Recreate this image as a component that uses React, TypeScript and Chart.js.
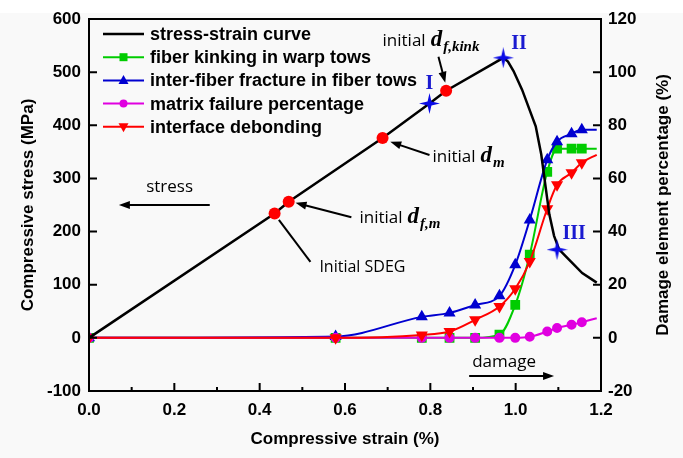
import React, { useEffect, useRef } from "react";
import { Chart, registerables } from "chart.js";

Chart.register(...registerables);

// ---------- data ----------
const stressStrain = [0, 0.435, 0.468, 0.688, 0.798, 0.837, 0.971, 0.982, 0.995, 1.015, 1.047, 1.060, 1.070, 1.079, 1.090, 1.102, 1.125, 1.156, 1.19];
const stressValues = [0, 234, 256, 376, 441, 465, 527, 520, 502, 467, 398, 345, 285, 232, 192, 166, 147, 122, 104];

const damageStrain = [0, 0.578, 0.78, 0.845, 0.905, 0.962, 0.999, 1.033, 1.074, 1.097, 1.131, 1.155, 1.19];
const fiberKinking = [0, 0, 0, 0, 0, 1.2, 12.4, 31.3, 62.5, 71.2, 71.2, 71.2, 71.2];
const interFiber = [0, 0.5, 7.9, 9.4, 12.4, 15.8, 27.5, 44.4, 67.0, 73.8, 76.8, 78.3, 78.3];
const matrixFailure = [0, 0, 0, 0, 0, 0, 0, 0.4, 2.4, 3.7, 4.9, 5.9, 7.4];
const interfaceDebonding = [0, 0, 1.1, 2.4, 6.8, 11.8, 18.5, 28.7, 48.6, 57.6, 62.1, 65.9, 68.9];

const initStrain = [0.435, 0.468, 0.688, 0.837];
const initStress = [234, 256, 376, 465];
const stageStrain = [0.798, 0.971, 1.097];
const stageStress = [441, 527, 166];
const stageLabels = ["I", "II", "III"];

const xTicks = [0, 0.2, 0.4, 0.6, 0.8, 1.0, 1.2];
const yTicks = [-100, 0, 100, 200, 300, 400, 500, 600];
const y1Ticks = [-20, 0, 20, 40, 60, 80, 100, 120];

const seriesLabels = [
  "stress-strain curve",
  "fiber kinking in warp tows",
  "inter-fiber fracture in fiber tows",
  "matrix failure percentage",
  "interface debonding",
];

const BLACK = "#000000";
const GREEN = "#00cc00";
const BLUE = "#0000d0";
const MAGENTA = "#e000e0";
const RED = "#ff0000";
const STAR_BLUE = "#0a0ae6";

const SANS_BOLD = "'Liberation Sans', Arial, sans-serif";

function makeStar(size: number, color: string) {
  const c = document.createElement("canvas");
  c.width = size;
  c.height = size;
  const ctx = c.getContext("2d")!;
  const r = size / 2;
  const ri = size * 0.13;
  ctx.fillStyle = color;
  ctx.beginPath();
  for (let i = 0; i < 8; i++) {
    const a = -Math.PI / 2 + (i * Math.PI) / 4;
    const rr = i % 2 === 0 ? r : ri;
    ctx.lineTo(r + rr * Math.cos(a), r + rr * Math.sin(a));
  }
  ctx.closePath();
  ctx.fill();
  return c;
}

function pts(xs: number[], ys: number[]) {
  return xs.map((x, i) => ({ x, y: ys[i] }));
}

function radii(n: number, r: number) {
  return Array.from({ length: n }, (_, i) => (i === n - 1 ? 0 : r));
}

function drawMarker(ctx: CanvasRenderingContext2D, kind: string, x: number, y: number, color: string) {
  ctx.fillStyle = color;
  ctx.beginPath();
  if (kind === "rect") {
    ctx.rect(x - 4, y - 4, 8, 8);
  } else if (kind === "tri") {
    ctx.moveTo(x, y - 5.5);
    ctx.lineTo(x + 5, y + 3.5);
    ctx.lineTo(x - 5, y + 3.5);
    ctx.closePath();
  } else if (kind === "trid") {
    ctx.moveTo(x, y + 5.5);
    ctx.lineTo(x + 5, y - 3.5);
    ctx.lineTo(x - 5, y - 3.5);
    ctx.closePath();
  } else if (kind === "circle") {
    ctx.arc(x, y, 4, 0, Math.PI * 2);
  }
  ctx.fill();
}

function arrow(ctx: CanvasRenderingContext2D, x1: number, y1: number, x2: number, y2: number, head = true) {
  const ang = Math.atan2(y2 - y1, x2 - x1);
  const hl = head ? 11 : 0;
  ctx.beginPath();
  ctx.moveTo(x1, y1);
  ctx.lineTo(x2 - Math.cos(ang) * hl * 0.8, y2 - Math.sin(ang) * hl * 0.8);
  ctx.stroke();
  if (head) {
    ctx.beginPath();
    ctx.moveTo(x2, y2);
    ctx.lineTo(x2 - hl * Math.cos(ang) + 4 * Math.sin(ang), y2 - hl * Math.sin(ang) - 4 * Math.cos(ang));
    ctx.lineTo(x2 - hl * Math.cos(ang) - 4 * Math.sin(ang), y2 - hl * Math.sin(ang) + 4 * Math.cos(ang));
    ctx.closePath();
    ctx.fill();
  }
}

function initialLabel(ctx: CanvasRenderingContext2D, x: number, y: number, sub: string) {
  ctx.textBaseline = "alphabetic";
  ctx.textAlign = "left";
  ctx.fillStyle = "#000";
  ctx.font = "17px 'Open Sans', 'Noto Sans', sans-serif";
  ctx.fillText("initial", x, y);
  const w = ctx.measureText("initial").width + 5;
  ctx.font = "bold italic 23px 'Liberation Serif', serif";
  ctx.fillText("d", x + w, y);
  const w2 = ctx.measureText("d").width + 1;
  ctx.font = "bold italic 15px 'Liberation Serif', serif";
  ctx.fillText(sub, x + w + w2, y + 5);
}

const decorPlugin = {
  id: "decor",
  beforeDraw(chart: any) {
    const { ctx, width, height } = chart;
    ctx.save();
    ctx.fillStyle = "#f9f9f9";
    ctx.fillRect(0, 0, width, height);
    ctx.fillStyle = "#ffffff";
    ctx.fillRect(0, 0, width, 13);
    ctx.restore();
  },
  afterDraw(chart: any) {
    const { ctx, chartArea } = chart;
    const { left, right, top, bottom } = chartArea;
    const sx = chart.scales.x;
    const sy = chart.scales.y;
    const sy1 = chart.scales.y1;
    const P = (a: number, b: number) => [sx.getPixelForValue(a), sy.getPixelForValue(b)];
    ctx.save();
    // frame
    ctx.strokeStyle = "#000";
    ctx.lineWidth = 2;
    ctx.strokeRect(left, top, right - left, bottom - top);
    // inward ticks
    ctx.beginPath();
    for (let i = 0; i <= 12; i++) {
      const px = sx.getPixelForValue(i * 0.1);
      const len = i % 2 === 0 ? 8 : 4;
      ctx.moveTo(px, bottom);
      ctx.lineTo(px, bottom - len);
    }
    yTicks.forEach((v) => {
      const py = sy.getPixelForValue(v);
      ctx.moveTo(left, py);
      ctx.lineTo(left + 8, py);
    });
    y1Ticks.forEach((v) => {
      const py = sy1.getPixelForValue(v);
      ctx.moveTo(right, py);
      ctx.lineTo(right - 8, py);
    });
    ctx.stroke();

    // right axis title (reads bottom to top)
    ctx.save();
    ctx.translate(right + 62, (top + bottom) / 2);
    ctx.rotate(-Math.PI / 2);
    ctx.fillStyle = "#000";
    ctx.font = "bold 17px " + SANS_BOLD;
    ctx.textAlign = "center";
    ctx.textBaseline = "middle";
    ctx.fillText("Damage element percentage (%)", 0, 0);
    ctx.restore();

    // annotations
    ctx.strokeStyle = "#000";
    ctx.fillStyle = "#000";
    ctx.lineWidth = 2;
    let a: number[], b: number[];
    // initial d_f,kink
    a = P(0.819, 529); b = P(0.835, 480);
    arrow(ctx, a[0], a[1], b[0], b[1]);
    a = P(0.688, 550);
    initialLabel(ctx, a[0], a[1], "f,kink");
    // initial d_m
    a = P(0.798, 344); b = P(0.706, 369);
    arrow(ctx, a[0], a[1], b[0], b[1]);
    a = P(0.805, 330);
    initialLabel(ctx, a[0], a[1], "m");
    // initial d_f,m
    a = P(0.615, 227); b = P(0.484, 254);
    arrow(ctx, a[0], a[1], b[0], b[1]);
    a = P(0.634, 217);
    initialLabel(ctx, a[0], a[1], "f,m");
    // Initial SDEG
    a = P(0.519, 143); b = P(0.445, 222);
    arrow(ctx, a[0], a[1], b[0], b[1], false);
    a = P(0.54, 133);
    ctx.font = "16px 'Open Sans', 'Noto Sans', sans-serif";
    ctx.textBaseline = "middle";
    ctx.textAlign = "left";
    ctx.fillText("Initial SDEG", a[0], a[1]);
    // stress
    a = P(0.283, 250); b = P(0.07, 250);
    arrow(ctx, a[0], a[1], b[0], b[1]);
    a = P(0.189, 283);
    ctx.font = "17px 'Open Sans', 'Noto Sans', sans-serif";
    ctx.textAlign = "center";
    ctx.fillText("stress", a[0], a[1]);
    // damage
    a = P(0.891, -72); b = P(1.09, -72);
    arrow(ctx, a[0], a[1], b[0], b[1]);
    a = P(0.898, -45);
    ctx.textAlign = "left";
    ctx.fillText("damage", a[0], a[1]);

    // stage labels
    ctx.fillStyle = "#1a1ad0";
    ctx.font = "bold 20px 'Liberation Serif', 'Times New Roman', serif";
    ctx.textAlign = "center";
    ctx.textBaseline = "middle";
    const stagePos = [[0.798, 478], [1.008, 553], [1.137, 196]];
    stageLabels.forEach((t, i) => {
      const p = P(stagePos[i][0], stagePos[i][1]);
      ctx.fillText(t, p[0], p[1]);
    });

    // legend
    const kinds = ["none", "rect", "tri", "circle", "trid"];
    const colors = [BLACK, GREEN, BLUE, MAGENTA, RED];
    ctx.font = "bold 18px " + SANS_BOLD;
    ctx.textAlign = "left";
    ctx.textBaseline = "middle";
    seriesLabels.forEach((lab, i) => {
      const yy = top + 15 + i * 23.2;
      const x0 = left + 14;
      ctx.strokeStyle = colors[i];
      ctx.lineWidth = i === 0 ? 2.5 : 2;
      ctx.beginPath();
      ctx.moveTo(x0, yy);
      ctx.lineTo(x0 + 41, yy);
      ctx.stroke();
      if (kinds[i] !== "none") drawMarker(ctx, kinds[i], x0 + 20.5, yy, colors[i]);
      ctx.fillStyle = "#000";
      ctx.fillText(lab, x0 + 47, yy + 1);
    });
    ctx.restore();
  },
};

export default function App() {
  const ref = useRef<HTMLCanvasElement | null>(null);
  useEffect(() => {
    document.body.style.margin = "0";
    const canvas = ref.current!;
    const star = makeStar(21, STAR_BLUE);
    const n = damageStrain.length;
    const tickFont = { family: SANS_BOLD, size: 17, weight: "bold" as const };
    const titleFont = { family: SANS_BOLD, size: 17, weight: "bold" as const };
    const chart = new Chart(canvas, {
      type: "line",
      data: {
        datasets: [
          {
            label: "stages",
            data: pts(stageStrain, stageStress),
            yAxisID: "y",
            showLine: false,
            pointStyle: star as any,
            pointRadius: 10,
            order: 0,
          } as any,
          {
            label: "initiation",
            data: pts(initStrain, initStress),
            yAxisID: "y",
            showLine: false,
            pointStyle: "circle",
            pointRadius: 6,
            backgroundColor: RED,
            borderColor: RED,
            borderWidth: 0,
            order: 0,
          },
          {
            label: seriesLabels[0],
            data: pts(stressStrain, stressValues),
            yAxisID: "y",
            borderColor: BLACK,
            borderWidth: 2.5,
            pointRadius: 0,
            tension: 0,
            order: 1,
          },
          {
            label: seriesLabels[4],
            data: pts(damageStrain, interfaceDebonding),
            yAxisID: "y1",
            borderColor: RED,
            backgroundColor: RED,
            borderWidth: 2,
            pointStyle: "triangle",
            rotation: 180,
            pointRadius: radii(n, 5),
            cubicInterpolationMode: "monotone",
            order: 2,
          },
          {
            label: seriesLabels[3],
            data: pts(damageStrain, matrixFailure),
            yAxisID: "y1",
            borderColor: MAGENTA,
            backgroundColor: MAGENTA,
            borderWidth: 2,
            pointStyle: "circle",
            pointRadius: radii(n, 4),
            cubicInterpolationMode: "monotone",
            order: 3,
          },
          {
            label: seriesLabels[2],
            data: pts(damageStrain, interFiber),
            yAxisID: "y1",
            borderColor: BLUE,
            backgroundColor: BLUE,
            borderWidth: 2,
            pointStyle: "triangle",
            pointRadius: radii(n, 5),
            cubicInterpolationMode: "monotone",
            order: 4,
          },
          {
            label: seriesLabels[1],
            data: pts(damageStrain, fiberKinking),
            yAxisID: "y1",
            borderColor: GREEN,
            backgroundColor: GREEN,
            borderWidth: 2,
            pointStyle: "rect",
            pointRadius: radii(n, 5.5),
            cubicInterpolationMode: "monotone",
            order: 5,
          },
        ],
      },
      options: {
        animation: false,
        responsive: false,
        maintainAspectRatio: false,
        layout: { padding: { top: 19, left: 0, right: 0, bottom: 0 } },
        plugins: { legend: { display: false }, tooltip: { enabled: false } },
        elements: { point: { borderWidth: 0 } },
        scales: {
          x: {
            type: "linear",
            position: "bottom",
            min: 0,
            max: 1.2,
            afterBuildTicks: (s: any) => {
              s.ticks = xTicks.map((v) => ({ value: v }));
            },
            ticks: {
              font: tickFont,
              color: "#000",
              padding: 9,
              maxRotation: 0,
              callback: (v: any) => Number(v).toFixed(1),
            },
            grid: { display: false, drawTicks: false },
            border: { display: true, color: "#000", width: 2 },
            title: {
              display: true,
              text: "Compressive strain (%)",
              font: titleFont,
              color: "#000",
              padding: { top: 0, bottom: 8 },
            },
            afterFit: (s: any) => {
              s.height = 67;
            },
          },
          y: {
            type: "linear",
            position: "left",
            min: -100,
            max: 600,
            afterBuildTicks: (s: any) => {
              s.ticks = yTicks.map((v) => ({ value: v }));
            },
            ticks: { font: tickFont, color: "#000", padding: 8 },
            grid: { display: false, drawTicks: false },
            border: { display: true, color: "#000", width: 2 },
            title: {
              display: true,
              text: "Compressive stress (MPa)",
              font: titleFont,
              color: "#000",
              padding: { top: 18, bottom: 0 },
            },
            afterFit: (s: any) => {
              s.width = 89;
            },
          },
          y1: {
            type: "linear",
            position: "right",
            min: -20,
            max: 120,
            afterBuildTicks: (s: any) => {
              s.ticks = y1Ticks.map((v) => ({ value: v }));
            },
            ticks: { font: tickFont, color: "#000", padding: 7 },
            grid: { display: false, drawTicks: false },
            border: { display: true, color: "#000", width: 2 },
            title: { display: false },
            afterFit: (s: any) => {
              s.width = 82;
            },
          },
        },
      },
      plugins: [decorPlugin],
    });
    return () => chart.destroy();
  }, []);
  return (
    <div style={{ width: 683, height: 458 }}>
      <canvas ref={ref} width={683} height={458} style={{ display: "block", width: 683, height: 458 }} />
    </div>
  );
}
